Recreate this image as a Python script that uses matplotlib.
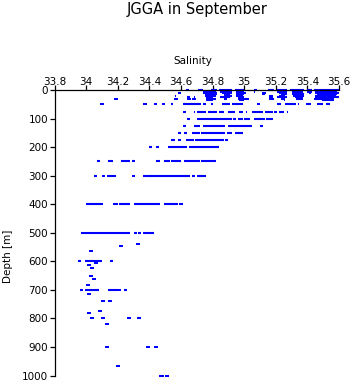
import numpy as np
import matplotlib
matplotlib.use("Agg")
import matplotlib.pyplot as plt

plt.rcParams['font.family'] = ['DejaVu Sans']

# Each profile row is a run of samples at one depth: (depth, salinity from, salinity to)
seg_depth = [
    0, 0, 0, 0, 0, 0, 0, 0, 0, 0, 0,
    5, 5, 5, 5, 5, 5, 5, 5,
    10, 10, 10, 10, 10, 10, 10, 10, 10, 10, 10,
    15, 15, 15, 15, 15, 15, 15,
    20, 20, 20, 20, 20, 20, 20, 20,
    25, 25, 25, 25, 25, 25, 25, 25, 25,
    30, 30, 30, 30, 30, 30, 30, 30, 30, 30, 30,
    34, 34, 34, 34,
    50, 50, 50, 50, 50, 50, 50, 50, 50, 50, 50, 50, 50, 50, 50, 50, 50,
    75, 75, 75, 75, 75, 75, 75, 75, 75, 75, 75, 75, 75,
    100, 100, 100, 100, 100, 100, 100,
    125, 125, 125, 125, 125, 125,
    150, 150, 150, 150, 150, 150, 150,
    175, 175, 175, 175, 175,
    200, 200, 200, 200,
    250, 250, 250, 250, 250, 250, 250, 250, 250,
    300, 300, 300, 300, 300, 300, 300, 300,
    400, 400, 400, 400, 400, 400,
    500, 500, 500, 500,
    540, 547, 563,
    600, 600, 600,
    605, 612, 625, 650, 663, 682,
    700, 700, 700, 700, 700,
    713, 739, 739, 774, 780,
    800, 800, 800, 800,
    820,
    900, 900, 900,
    965,
    1000, 1000,
]
seg_lo = [
    34.63, 34.71, 34.79, 34.84, 34.94, 35.06, 35.15, 35.21, 35.29, 35.40, 35.44,
    34.74, 34.85, 34.95, 35.06, 35.21, 35.30, 35.40, 35.45,
    34.58, 34.74, 34.80, 34.86, 34.90, 34.95, 35.11, 35.22, 35.30, 35.41, 35.45,
    34.75, 34.87, 34.95, 35.11, 35.23, 35.30, 35.46,
    34.56, 34.75, 34.87, 34.95, 35.16, 35.22, 35.31, 35.45,
    34.64, 34.68, 34.76, 34.85, 34.96, 35.16, 35.21, 35.32, 35.45,
    34.19, 34.57, 34.65, 34.68, 34.76, 34.87, 34.96, 35.16, 35.23, 35.33, 35.44,
    34.76, 34.97, 35.25, 35.49,
    34.10, 34.37, 34.43, 34.48, 34.54, 34.61, 34.74, 34.79, 34.86, 34.92, 35.08,
    35.21, 35.26, 35.34, 35.39, 35.46, 35.52,
    34.61, 34.68, 34.70, 34.77, 34.84, 34.90, 34.97, 35.01, 35.05, 35.13, 35.19,
    35.22, 35.27,
    34.64, 34.70, 34.93, 34.96, 35.00, 35.06, 35.14,
    34.61, 34.68, 34.74, 34.90, 34.92, 35.10,
    34.58, 34.62, 34.67, 34.73, 34.83, 34.89, 34.94,
    34.54, 34.58, 34.63, 34.69, 34.88,
    34.40, 34.44, 34.52, 34.65,
    34.07, 34.14, 34.22, 34.29, 34.44, 34.49, 34.54, 34.62, 34.73,
    34.05, 34.10, 34.13, 34.29, 34.36, 34.40, 34.67, 34.70,
    34.00, 34.17, 34.21, 34.30, 34.49, 34.59,
    33.97, 34.30, 34.33, 34.36,
    34.33, 34.22, 34.03,
    33.95, 33.99, 34.15,
    34.06, 34.02, 34.04, 34.03, 34.05, 34.01,
    33.96, 33.99, 34.14, 34.21, 34.24,
    34.02, 34.11, 34.15, 34.09, 34.02,
    34.04, 34.11, 34.27, 34.32,
    34.13,
    34.13, 34.39, 34.44,
    34.20,
    34.46, 34.51,
]
seg_hi = [
    34.65, 34.74, 34.83, 34.92, 35.00, 35.08, 35.19, 35.27, 35.38, 35.43, 35.60,
    34.82, 34.92, 35.00, 35.07, 35.27, 35.37, 35.43, 35.59,
    34.60, 34.78, 34.83, 34.88, 34.92, 35.01, 35.14, 35.26, 35.35, 35.42, 35.60,
    34.83, 34.91, 35.00, 35.13, 35.27, 35.38, 35.59,
    34.57, 34.82, 34.92, 34.99, 35.18, 35.26, 35.38, 35.58,
    34.66, 34.69, 34.80, 34.91, 35.00, 35.18, 35.27, 35.37, 35.60,
    34.19, 34.57, 34.65, 34.68, 34.82, 34.89, 35.03, 35.19, 35.26, 35.37, 35.57,
    34.80, 35.00, 35.26, 35.57,
    34.10, 34.37, 34.45, 34.50, 34.55, 34.73, 34.76, 34.80, 34.91, 34.99, 35.10,
    35.23, 35.33, 35.35, 35.42, 35.50, 35.54,
    34.63, 34.69, 34.76, 34.83, 34.87, 34.94, 34.99, 35.02, 35.12, 35.18, 35.21,
    35.25, 35.28,
    34.66, 34.92, 34.95, 34.99, 35.04, 35.13, 35.18,
    34.63, 34.72, 34.88, 34.92, 35.05, 35.12,
    34.60, 34.64, 34.72, 34.83, 34.88, 34.92, 34.99,
    34.56, 34.60, 34.68, 34.87, 34.90,
    34.42, 34.46, 34.64, 34.84,
    34.09, 34.17, 34.28, 34.31, 34.47, 34.53, 34.60, 34.72, 34.82,
    34.07, 34.12, 34.19, 34.31, 34.42, 34.66, 34.69, 34.76,
    34.11, 34.20, 34.28, 34.47, 34.58, 34.61,
    34.28, 34.32, 34.35, 34.43,
    34.33, 34.22, 34.03,
    33.97, 34.10, 34.17,
    34.06, 34.02, 34.04, 34.03, 34.05, 34.01,
    33.98, 34.08, 34.20, 34.21, 34.26,
    34.02, 34.11, 34.15, 34.09, 34.02,
    34.04, 34.11, 34.27, 34.35,
    34.13,
    34.13, 34.39, 34.44,
    34.20,
    34.49, 34.51,
]

sal_ticks = [33.8, 34.0, 34.2, 34.4, 34.6, 34.8, 35.0, 35.2, 35.4, 35.6]
sal_labels = ['33.8', '34', '34.2', '34.4', '34.6', '34.8', '35', '35.2', '35.4', '35.6']
depth_ticks = [0, 100, 200, 300, 400, 500, 600, 700, 800, 900, 1000]

W, H = 353, 384
fig = plt.figure(figsize=(W / 100, H / 100), dpi=100)
fig.patch.set_facecolor('white')
ax = fig.add_axes([54.5 / W, 8.5 / H, (339 - 54.5) / W, (375.7 - 90.3) / H])

blue = '#0000ff'
depth = np.array(seg_depth)
lo = np.array(seg_lo)
hi = np.array(seg_hi)
ax.hlines(depth, lo, hi, colors=blue, linewidth=1.5, capstyle='butt', clip_on=False)
# single samples (runs of length zero) drawn as small 3x2 dashes
single = lo == hi
dash = [(-1.5, -1.0), (1.5, -1.0), (1.5, 1.0), (-1.5, 1.0)]
ax.scatter(lo[single], depth[single], marker=dash, s=5.0, c=blue, linewidths=0, clip_on=False)

ax.set_xlim(33.8, 35.6)
ax.set_ylim(1000, 0)
ax.xaxis.tick_top()
ax.set_xticks(sal_ticks)
ax.set_xticklabels(sal_labels)
ax.set_yticks(depth_ticks)
for side in ['right', 'bottom']:
    ax.spines[side].set_visible(False)
for side in ['left', 'top']:
    ax.spines[side].set_linewidth(0.9)
ax.tick_params(axis='x', length=3.6, width=0.9, pad=-1.5, labelsize=7.5)
ax.tick_params(axis='y', length=3.6, width=0.9, pad=1.0, labelsize=7.5)

fig.text(196.75 / W, 1 - 14 / H, 'JGGA in September', ha='center', va='baseline', fontsize=10.5)
fig.text(192.5 / W, 1 - 63.5 / H, 'Salinity', ha='center', va='baseline', fontsize=7.5)
fig.text(8.5 / W, 1 - 256 / H, 'Depth [m]', ha='center', va='center', rotation=90, fontsize=7.5)

fig.savefig('out.png', dpi=100)
